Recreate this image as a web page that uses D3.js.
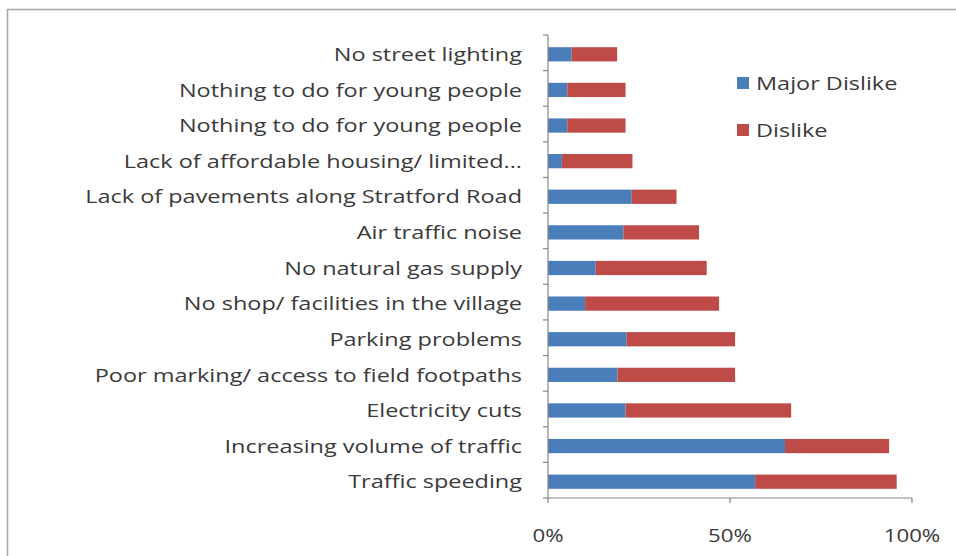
<!DOCTYPE html>
<html><head><meta charset="utf-8">
<script src="https://cdn.jsdelivr.net/npm/d3@7"></script>
<style>
html,body{margin:0;padding:0;background:#fff;}
svg text{font-family:"Open Sans","Noto Sans",sans-serif;}
</style></head>
<body><svg id="c" width="956" height="556"></svg>
<script>
const categories = [
  "No street lighting",
  "Nothing to do for young people",
  "Nothing to do for young people",
  "Lack of affordable housing/ limited...",
  "Lack of pavements along Stratford Road",
  "Air traffic noise",
  "No natural gas supply",
  "No shop/ facilities in the village",
  "Parking problems",
  "Poor marking/ access to field footpaths",
  "Electricity cuts",
  "Increasing volume of traffic",
  "Traffic speeding"
];
const majorDislike = [6.5, 5.3, 5.3, 3.8, 23, 20.7, 13.1, 10.2, 21.6, 19.1, 21.3, 65.1, 56.9];
const dislike      = [12.5, 16, 16, 19.4, 12.3, 20.8, 30.5, 36.8, 29.8, 32.3, 45.5, 28.6, 38.9];
const seriesNames = ["Major Dislike", "Dislike"];
const xTicks = [0, 50, 100];

const colors = ["#4a7ebb", "#be4b48"];
const textColor = "#3a3a3a";
const fs = 19;
const svg = d3.select("#c");

// chart border (top and left visible)
svg.append("path").attr("d","M7.5,556 V9.5 H956").attr("fill","none").attr("stroke","#a6a6a6").attr("stroke-width",1.5);

const x = d3.scaleLinear().domain([0,100]).range([548,912]);
const y = d3.scaleBand().domain(d3.range(categories.length)).range([35,498])
  .paddingInner(0.6).paddingOuter(0.3).align(0.57);

const data = categories.map((c,i)=>({i, c, a: majorDislike[i], b: dislike[i]}));

// measure horizontal stretch so the text widths match the reference rendering
const probe = svg.append("text").attr("font-size",fs).text("Lack of pavements along Stratford Road");
const k = 437 / probe.node().getComputedTextLength();
probe.remove();

function stretchedText(sel, tx, ty, anchor, size){
  sel.attr("transform", (d,i)=>`translate(${tx(d,i)},${ty(d,i)}) scale(${k},1)`)
     .attr("text-anchor", anchor).attr("dy","0.35em")
     .attr("font-size", size).attr("fill", textColor);
}

// bars
const g = svg.append("g");
g.selectAll("rect.a").data(data).join("rect")
  .attr("x", d=>x(0)).attr("y", d=>y(d.i)).attr("height", y.bandwidth())
  .attr("width", d=>x(d.a)-x(0)).attr("fill", colors[0]);
g.selectAll("rect.b").data(data).join("rect")
  .attr("x", d=>x(d.a)).attr("y", d=>y(d.i)).attr("height", y.bandwidth())
  .attr("width", d=>x(d.a+d.b)-x(d.a)).attr("fill", colors[1]);

// y axis line + ticks at category boundaries
const step = y.step();
const y0 = 35;
svg.append("line").attr("x1",x(0)).attr("x2",x(0)).attr("y1",y0).attr("y2",498).attr("stroke","#868686").attr("stroke-width",1.2);
svg.selectAll("line.yt").data(d3.range(categories.length+1)).join("line")
  .attr("x1",x(0)-5).attr("x2",x(0)).attr("y1",d=>y0+d*step).attr("y2",d=>y0+d*step)
  .attr("stroke","#868686").attr("stroke-width",1.2);

// category labels
svg.selectAll("text.cat").data(data).join("text").attr("class","cat")
  .call(stretchedText, d=>522, d=>y(d.i)+y.bandwidth()/2, "end", fs)
  .text(d=>d.c);

// x axis
svg.append("line").attr("x1",x(0)).attr("x2",x(100)).attr("y1",498).attr("y2",498).attr("stroke","#868686").attr("stroke-width",1.2);
svg.selectAll("line.xt").data(xTicks).join("line")
  .attr("x1",d=>x(d)).attr("x2",d=>x(d)).attr("y1",498).attr("y2",503)
  .attr("stroke","#868686").attr("stroke-width",1.2);
svg.selectAll("text.xl").data(xTicks).join("text").attr("class","xl")
  .call(stretchedText, d=>x(d), d=>536, "middle", 18)
  .text(d=>d+"%");

// legend
const lg = svg.append("g");
seriesNames.forEach((s,i)=>{
  const cy = 83 + i*47;
  lg.append("rect").attr("x",737).attr("y",cy-6).attr("width",12).attr("height",12).attr("fill",colors[i]);
  lg.append("text").datum(s).call(stretchedText, ()=>756, ()=>cy, "start", fs).text(s);
});
</script></body></html>
